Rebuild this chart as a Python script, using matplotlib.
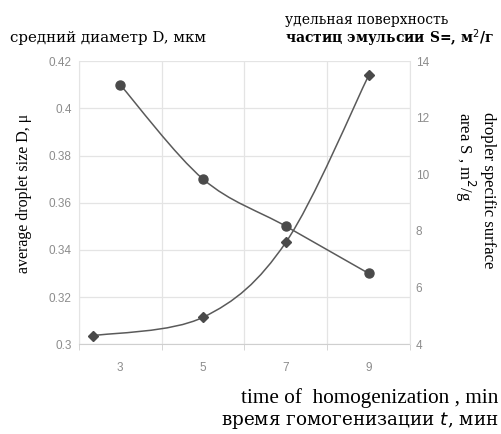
import numpy as np
import matplotlib.pyplot as plt
from matplotlib.path import Path
from matplotlib.patches import PathPatch

# данные
time_min = [3, 5, 7, 9]
diameter = [0.41, 0.37, 0.35, 0.33]
time_s = [2.35, 5, 7, 9]
surface = [4.3, 4.95, 7.6, 13.5]
x_ticks = [3, 5, 7, 9]
d_ticks = [0.30, 0.32, 0.34, 0.36, 0.38, 0.40, 0.42]
s_ticks = [4, 6, 8, 10, 12, 14]

line_col = '#5a5a5a'
grid_col = '#e4e4e4'
tick_col = '#8c8c8c'
serif = 'Liberation Serif'
wide = 'DejaVu Serif'


def smooth_path(x, y):
    # сглаженная линия как в Excel (Catmull-Rom -> Bezier)
    pts = np.column_stack([x, y]).astype(float)
    n = len(pts)
    verts = [pts[0]]
    codes = [Path.MOVETO]
    for i in range(n - 1):
        p0 = pts[i - 1] if i > 0 else pts[i]
        p1 = pts[i]
        p2 = pts[i + 1]
        p3 = pts[i + 2] if i + 2 < n else pts[i + 1]
        verts += [p1 + (p2 - p0) / 6, p2 - (p3 - p1) / 6, p2]
        codes += [Path.CURVE4] * 3
    return Path(verts, codes)


fig = plt.figure(figsize=(5.02, 4.34), dpi=100)
ax = fig.add_axes([0.157, 0.207, 0.660, 0.652])
ax2 = ax.twinx()

ax.set_xlim(2, 10)
ax.set_ylim(0.30, 0.42)
ax2.set_ylim(4, 14)

ax.set_xticks(x_ticks)
ax.set_xticks([2, 4, 6, 8, 10], minor=True)
ax.set_yticks(d_ticks)
ax.set_yticklabels(['%g' % v for v in d_ticks])
ax2.set_yticks(s_ticks)

ax.grid(True, axis='y', color=grid_col, lw=0.9)
ax.grid(True, axis='x', which='minor', color=grid_col, lw=0.9)
ax.set_axisbelow(True)

for a in (ax, ax2):
    for s in a.spines.values():
        s.set_visible(False)
    a.tick_params(labelsize=8.5, colors=tick_col, length=0, labelfontfamily='Liberation Sans')
ax.spines['bottom'].set_visible(True)
ax.spines['bottom'].set_color('#cfcfcf')
ax.spines['left'].set_visible(True)
ax.spines['left'].set_color(grid_col)
ax2.spines['right'].set_visible(True)
ax2.spines['right'].set_color(grid_col)
ax.tick_params(axis='x', which='minor', length=4, color='#cfcfcf', bottom=True)
ax.tick_params(axis='x', which='major', pad=13)
ax.tick_params(axis='y', pad=5)
ax2.tick_params(axis='y', pad=4)

ax.add_patch(PathPatch(smooth_path(time_min, diameter), fill=False, ec=line_col, lw=1.1))
ax.plot(time_min, diameter, ls='none', marker='o', ms=6.5, color='#4a4a4a')
ax2.add_patch(PathPatch(smooth_path(time_s, surface), fill=False, ec=line_col, lw=1.1))
ax2.plot(time_s, surface, ls='none', marker='D', ms=5, color='#4a4a4a')

ax.set_ylabel('average droplet size D, μ', family=serif, fontsize=11.5)
ax.yaxis.set_label_coords(-0.14, 0.534)
fig.text(0.945, 0.742, 'dropler specific surface\narea S , m$^2$/g', family=serif,
         fontsize=12, rotation=270, ha='center', va='top', multialignment='left',
         linespacing=1.15)

fig.text(0.02, 0.912, 'средний диаметр D, мкм', family=wide, fontsize=10.8, va='center')
fig.text(0.567, 0.954, 'удельная поверхность', family=wide, fontsize=10, va='center')
fig.text(0.567, 0.912, 'частиц эмульсии S=, м$^2$/г', family=wide, fontsize=10,
         va='center', weight='bold')
fig.text(0.993, 0.083, 'time of  homogenization , min', family=serif, fontsize=15.3,
         ha='right', va='center')
fig.text(0.993, 0.032, 'время гомогенизации $t$, мин', family=wide, fontsize=13.2,
         ha='right', va='center')

fig.savefig('out.png', dpi=100)
